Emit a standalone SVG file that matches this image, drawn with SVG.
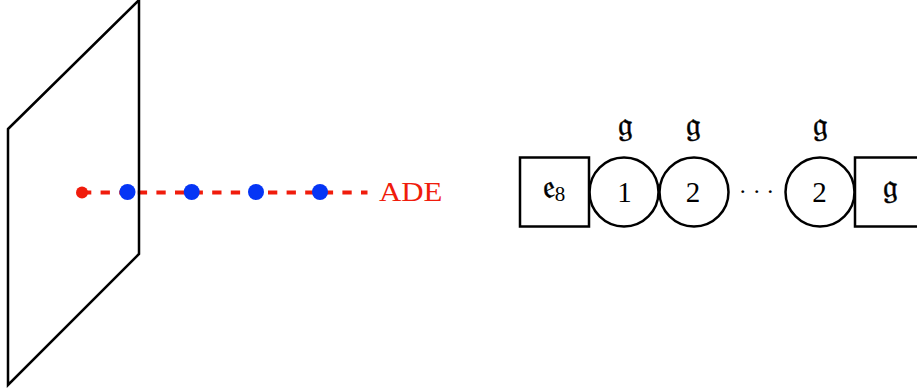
<svg xmlns="http://www.w3.org/2000/svg" width="917" height="389" viewBox="0 0 917 389">
<style>
.k{fill:none;stroke:#000;stroke-width:2.5;stroke-linejoin:miter}
.t{font-family:"Liberation Serif","DejaVu Serif",serif;fill:#000;text-anchor:middle}
.num{font-size:29px}
.fr{font-family:"DejaVu Serif","DejaVu Sans","Liberation Serif",serif;font-size:33px;stroke:#000;stroke-width:0.5}
.red{fill:#f01c0c}
.blue{fill:#0535f5}
</style>
<rect width="917" height="389" fill="#fff"/>
<g id="connectors">
<line x1="82" y1="192.5" x2="367.5" y2="192.5" stroke="#f01c0c" stroke-width="4" stroke-dasharray="9.3 9.3"/>
</g>
<g id="plane">
<polygon class="k" points="8,129 139,0 139,254 8,385"/>
</g>
<g id="ade-point">
<circle class="red" cx="82" cy="192.5" r="6"/>
</g>
<g id="blue-1"><circle class="blue" cx="127.5" cy="192" r="8"/></g>
<g id="blue-2"><circle class="blue" cx="191.7" cy="192" r="8"/></g>
<g id="blue-3"><circle class="blue" cx="256" cy="192" r="8"/></g>
<g id="blue-4"><circle class="blue" cx="320" cy="192" r="8"/></g>
<g id="ade-label">
<text x="379" y="201" font-family="Liberation Serif, serif" font-size="27" fill="#f01c0c" textLength="63.5" lengthAdjust="spacingAndGlyphs">ADE</text>
</g>
<g id="flavor-e8">
<rect class="k" x="520" y="157.5" width="69" height="69"/>
<text class="t" x="554" y="198"><tspan class="fr">𝔢</tspan><tspan font-size="21" dy="3">8</tspan></text>
</g>
<g id="node-1">
<circle class="k" cx="624" cy="192" r="34.5"/>
<text class="t num" x="624.5" y="202">1</text>
<text class="t fr" x="625" y="136">𝔤</text>
</g>
<g id="node-2a">
<circle class="k" cx="694" cy="192" r="34.5"/>
<text class="t num" x="693" y="202">2</text>
<text class="t fr" x="693" y="136">𝔤</text>
</g>
<g id="dots">
<text class="t" x="742.7 756.7 770.2" y="199" font-size="24">···</text>
</g>
<g id="node-2b">
<circle class="k" cx="820" cy="192" r="34.5"/>
<text class="t num" x="819.5" y="202">2</text>
<text class="t fr" x="820" y="136">𝔤</text>
</g>
<g id="flavor-g">
<rect class="k" x="855" y="157.5" width="69" height="69"/>
<text class="t fr" x="890" y="198">𝔤</text>
</g>
</svg>
